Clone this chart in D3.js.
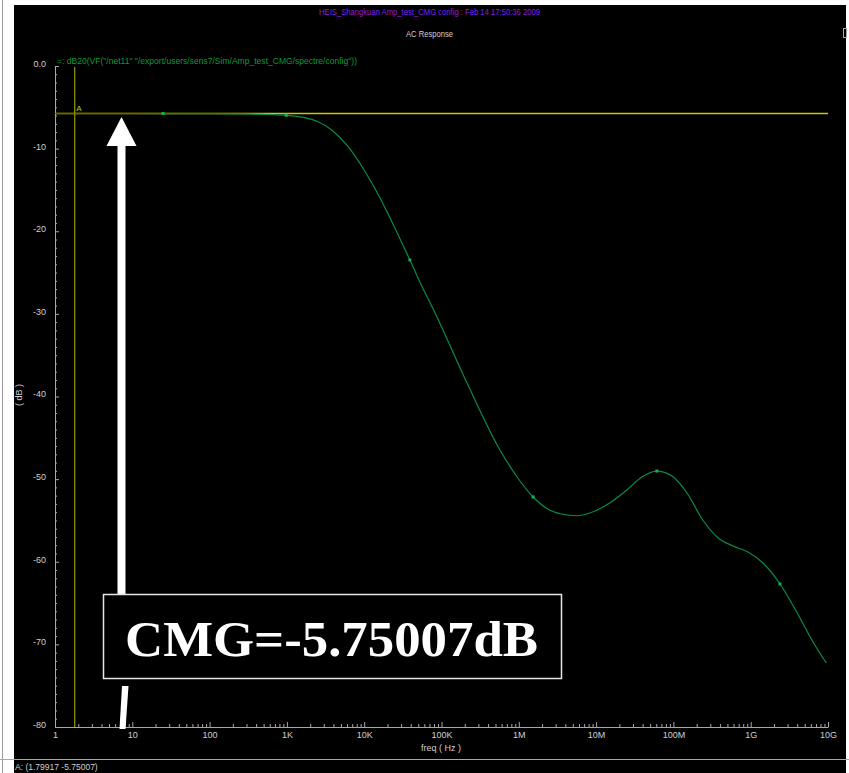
<!DOCTYPE html>
<html>
<head>
<meta charset="utf-8">
<script src="https://cdn.jsdelivr.net/npm/d3@7"></script>
<style>
  html, body { margin: 0; padding: 0; background: #fff; }
  svg { display: block; font-family: "Liberation Sans", "DejaVu Sans", sans-serif; }
</style>
</head>
<body>
<svg id="chart" width="849" height="773"></svg>
<script>
// AC response of dB20(VF("/net11")) — common-mode gain sweep
const freqHz = [1, 10, 100, 300, 600, 1e3, 1.6e3, 2.4e3, 3.8e3, 6.2e3, 9.6e3, 14.5e3, 39e3, 58e3,
  78e3, 214e3, 570e3, 950e3, 1.53e6, 2.5e6, 4.2e6, 5.7e6, 8.3e6, 15e6, 25e6, 39e6, 61e6,
  96e6, 150e6, 240e6, 380e6, 590e6, 920e6, 1.44e9, 2.4e9, 4e9, 6.4e9, 9.5e9];
const gainDb = [-5.75, -5.75, -5.76, -5.8, -5.87, -5.97, -6.21, -6.66, -7.75, -9.77, -12.34, -15.21, -23.48, -26.99,
  -29.4, -38.37, -46.47, -49.74, -52.16, -53.74, -54.34, -54.43, -54.1, -52.89, -51.32, -49.74, -49.02,
  -49.62, -51.68, -54.95, -57.12, -58.09, -58.82, -60.15, -62.69, -66.2, -69.71, -72.25];

// symbol markers placed along the trace
const markerHz = [25, 980, 39e3, 1.53e6, 61e6, 2.39e9];
const markerDb = [-5.75, -5.97, -23.48, -52.16, -49.02, -62.69];

// cursor A
const cursorHz = 1.79917;
const cursorDb = -5.75007;

const xTickValues = [1, 10, 100, 1e3, 1e4, 1e5, 1e6, 1e7, 1e8, 1e9, 1e10];
const xTickLabels = ["1", "10", "100", "1K", "10K", "100K", "1M", "10M", "100M", "1G", "10G"];
const yTickValues = [0, -10, -20, -30, -40, -50, -60, -70, -80];
const yTickLabels = ["0.0", "-10", "-20", "-30", "-40", "-50", "-60", "-70", "-80"];

const titleText = "HEIS_Shangkuan Amp_test_CMG config : Feb 14 17:50:36 2009";
const subTitle = "AC Response";
const traceName = "=: dB20(VF(\"/net11\" \"/export/users/sens7/Sim/Amp_test_CMG/spectre/config\"))";
const calloutText = "CMG=-5.75007dB";

const svg = d3.select("#chart");

// window frame
svg.append("rect").attr("x", 0).attr("y", 0).attr("width", 849).attr("height", 773).attr("fill", "#fff");
svg.append("rect").attr("x", 14).attr("y", 5).attr("width", 832).attr("height", 768).attr("fill", "#000");
svg.append("line").attr("x1", 2.5).attr("x2", 2.5).attr("y1", 0).attr("y2", 773)
  .attr("stroke", "#9a9a9a").attr("stroke-width", 1);
svg.append("rect").attr("x", 843.5).attr("y", 28.5).attr("width", 3).attr("height", 9)
  .attr("fill", "none").attr("stroke", "#aaa").attr("stroke-width", 1);

const x = d3.scaleLog().domain([1, 1e10]).range([55, 828]);
const y = d3.scaleLinear().domain([0, -80]).range([66, 727]);

// titles
svg.append("text").attr("x", 319).attr("y", 15).attr("font-size", 9)
  .attr("fill", "#8a1ee6").attr("textLength", 221).attr("lengthAdjust", "spacingAndGlyphs")
  .text(titleText);
svg.append("text").attr("x", 406).attr("y", 36.5).attr("font-size", 9)
  .attr("fill", "#d0d0d0").attr("textLength", 47).attr("lengthAdjust", "spacingAndGlyphs")
  .text(subTitle);
svg.append("text").attr("x", 57).attr("y", 63.5).attr("font-size", 9)
  .attr("fill", "#0a9a3c").attr("textLength", 300).attr("lengthAdjust", "spacingAndGlyphs")
  .text(traceName);

// minor tick values on the log axis (2..9 per decade)
const minorX = [];
for (let e = 0; e < 10; e++) for (let m = 2; m <= 9; m++) minorX.push(m * Math.pow(10, e));
const minorY = d3.range(0, -81, -1).filter(v => v % 10 !== 0);

const axisColor = "#a8a8a8";
const labelColor = "#cfcfcf";

// x axis
const gx = svg.append("g").attr("transform", `translate(0,${y(-80)})`);
gx.call(d3.axisBottom(x).tickValues(minorX).tickSize(-3).tickSizeOuter(0).tickFormat(""));
const gxMajor = svg.append("g").attr("transform", `translate(0,${y(-80)})`);
gxMajor.call(d3.axisBottom(x).tickValues(xTickValues).tickSize(-5).tickSizeOuter(0).tickPadding(5)
  .tickFormat((d, i) => xTickLabels[i]));
gxMajor.select(".domain").remove();

// y axis
const gy = svg.append("g").attr("transform", `translate(${x(1)},0)`);
gy.call(d3.axisLeft(y).tickValues(minorY).tickSize(-2).tickSizeOuter(0).tickFormat(""));
const gyMajor = svg.append("g").attr("transform", `translate(${x(1)},0)`);
gyMajor.call(d3.axisLeft(y).tickValues(yTickValues).tickSize(-4).tickSizeOuter(0).tickPadding(9)
  .tickFormat((d, i) => yTickLabels[i]));
gyMajor.select(".domain").remove();

[gx, gxMajor, gy, gyMajor].forEach(g => {
  g.attr("font-family", null);
  g.selectAll("path, line").attr("stroke", axisColor).attr("stroke-width", 1);
  g.selectAll("text").attr("fill", labelColor).attr("font-size", 9);
});
gyMajor.selectAll("text").attr("dy", "0.05em");

// axis titles
svg.append("text").attr("x", 441).attr("y", 751).attr("text-anchor", "middle")
  .attr("font-size", 9).attr("fill", labelColor).text("freq ( Hz )");
svg.append("text").attr("transform", "translate(22,395) rotate(-90)").attr("text-anchor", "middle")
  .attr("font-size", 9).attr("fill", labelColor).text("( dB )");

// cursor A lines
svg.append("line").attr("x1", x(cursorHz)).attr("x2", x(cursorHz)).attr("y1", y(0) + 1).attr("y2", y(-80))
  .attr("stroke", "#9a9a00").attr("stroke-width", 1.2);
svg.append("line").attr("x1", x(1)).attr("x2", x(1e10)).attr("y1", y(cursorDb)).attr("y2", y(cursorDb))
  .attr("stroke", "#c8c800").attr("stroke-width", 1.5);
svg.append("text").attr("x", x(cursorHz) + 1.5).attr("y", y(cursorDb) - 2.5)
  .attr("font-size", 8).attr("fill", "#c8c800").text("A");

// trace
const trace = freqHz.map((f, i) => ({ f, db: gainDb[i] }));
svg.append("path").datum(trace)
  .attr("fill", "none").attr("stroke", "#0a8c46").attr("stroke-width", 1.2)
  .attr("d", d3.line().x(d => x(d.f)).y(d => y(d.db)).curve(d3.curveMonotoneX));
svg.selectAll("rect.marker").data(markerHz).join("rect").attr("class", "marker")
  .attr("x", d => x(d) - 1.5).attr("y", (d, i) => y(markerDb[i]) - 1.5)
  .attr("width", 3).attr("height", 3).attr("fill", "#14b052");

// status line
svg.append("line").attr("x1", 0).attr("x2", 849).attr("y1", 759.5).attr("y2", 759.5)
  .attr("stroke", "#a8a8a8").attr("stroke-width", 1);
svg.append("text").attr("x", 15).attr("y", 770).attr("font-size", 8.5).attr("fill", labelColor)
  .text(`A: (${cursorHz} ${cursorDb})`);

// callout arrow pointing at the cursor level
const ax = 121.5;
svg.append("rect").attr("x", ax - 4).attr("y", 145).attr("width", 8).attr("height", 450).attr("fill", "#fff");
svg.append("path").attr("fill", "#fff")
  .attr("d", `M${ax},${y(cursorDb) + 3.5} L${ax + 15},146 L${ax - 15},146 Z`);
svg.append("path").attr("fill", "#fff").attr("d", "M122,686 L128.5,686 L125.5,729 L119.5,729 Z");

// callout box
svg.append("rect").attr("x", 103.5).attr("y", 594.5).attr("width", 458).attr("height", 84)
  .attr("fill", "#000").attr("stroke", "#e6e6e6").attr("stroke-width", 1.5);
svg.append("text").attr("x", 125).attr("y", 656).attr("font-size", 50)
  .style("font-family", "'Liberation Serif', 'Times New Roman', serif").style("font-weight", "bold")
  .attr("fill", "#fff")
  .attr("textLength", 413).attr("lengthAdjust", "spacingAndGlyphs").text(calloutText);
</script>
</body>
</html>
